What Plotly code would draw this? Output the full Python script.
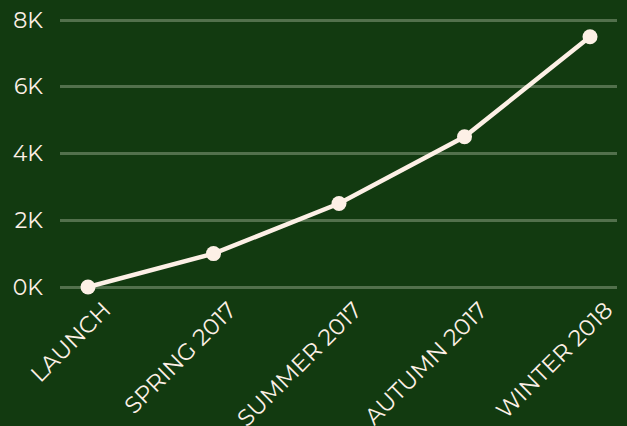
import plotly.graph_objects as go

categories = ["LAUNCH", "SPRING 2017", "SUMMER 2017", "AUTUMN 2017", "WINTER 2018"]
values = [0, 1000, 2500, 4500, 7500]
y_tickvals = [0, 2000, 4000, 6000, 8000]
y_ticktext = ["0K", "2K", "4K", "6K", "8K"]

bg = "#123a10"
cream = "#fdf0e6"
font_family = "Montserrat, 'Open Sans', Lato, sans-serif"

fig = go.Figure(
    go.Scatter(
        x=list(range(len(categories))),
        y=values,
        mode="lines+markers",
        line=dict(color=cream, width=4.5),
        marker=dict(color=cream, size=15),
        cliponaxis=False,
        showlegend=False,
        hoverinfo="skip",
    )
)

fig.update_layout(
    width=627,
    height=426,
    paper_bgcolor=bg,
    plot_bgcolor=bg,
    margin=dict(l=60, r=10, t=18, b=137),
    font=dict(family=font_family, color=cream, size=22),
)
fig.update_xaxes(
    tickmode="array",
    tickvals=list(range(len(categories))),
    ticktext=categories,
    tickangle=-45,
    range=[-0.223, 4.215],
    showgrid=False,
    zeroline=False,
    showline=False,
    ticks="",
    automargin=False,
    ticklabelshift=16,
    ticklabelstandoff=2,
    tickfont=dict(size=23, color=cream),
)
fig.update_yaxes(
    tickmode="array",
    tickvals=y_tickvals,
    ticktext=y_ticktext,
    range=[-60, 8060],
    showgrid=True,
    gridcolor="#52704c",
    gridwidth=3,
    zeroline=False,
    showline=False,
    ticks="",
    automargin=False,
    ticklabelstandoff=16,
    tickfont=dict(size=22, color=cream),
)

fig.write_html(
    "out.html",
    config={"displayModeBar": False},
    post_script="document.body.style.margin='0px';",
)
